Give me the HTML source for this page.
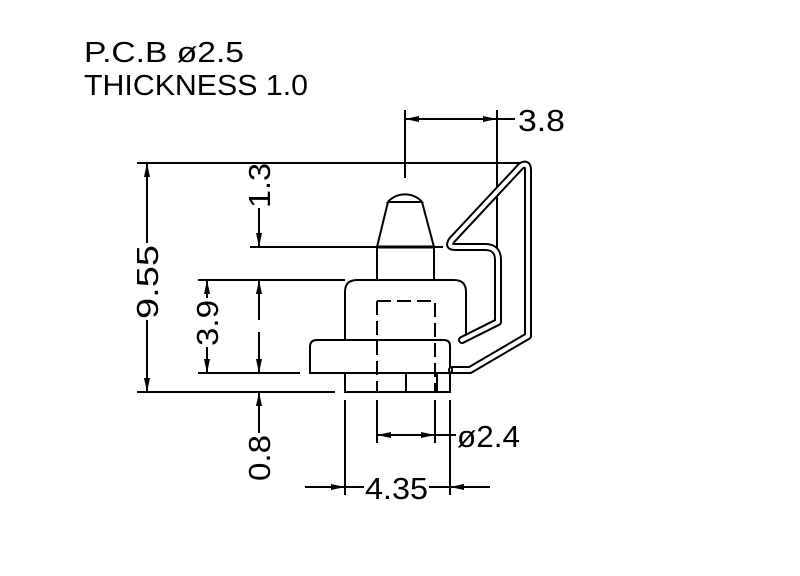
<!DOCTYPE html>
<html><head><meta charset="utf-8"><style>html,body{margin:0;padding:0;background:#fff}svg{display:block}</style></head>
<body>
<svg width="800" height="576" viewBox="0 0 800 576" xmlns="http://www.w3.org/2000/svg" font-family="Liberation Sans, sans-serif">
<defs>
<marker id="a" viewBox="0 0 14 6" refX="14" refY="3" markerWidth="14" markerHeight="6" markerUnits="userSpaceOnUse" orient="auto"><path d="M0,0 L14,3 L0,6 Z" fill="#000"/></marker>
</defs>
<g font-size="29" fill="#000">
<text x="84" y="62" textLength="160" lengthAdjust="spacingAndGlyphs">P.C.B  ø2.5</text>
<text x="84" y="95" textLength="224" lengthAdjust="spacingAndGlyphs">THICKNESS  1.0</text>
</g>
<g stroke="#000" stroke-width="2" fill="none">
<line x1="137" y1="163" x2="520" y2="163"/>
<line x1="137" y1="392" x2="335" y2="392"/>
<line x1="250" y1="247" x2="443" y2="247"/>
<line x1="198" y1="280" x2="345" y2="280"/>
<line x1="198" y1="373" x2="300" y2="373"/>
<line x1="405" y1="110" x2="405" y2="178"/>
<line x1="497" y1="110" x2="497" y2="248"/>
<line x1="440" y1="119" x2="405" y2="119" marker-end="url(#a)"/>
<line x1="460" y1="119" x2="497" y2="119" marker-end="url(#a)"/>
<line x1="440" y1="119" x2="460" y2="119"/>
<line x1="497" y1="119" x2="515" y2="119"/>
<line x1="147" y1="243" x2="147" y2="163" marker-end="url(#a)"/>
<line x1="147" y1="320" x2="147" y2="392" marker-end="url(#a)"/>
<line x1="259" y1="208" x2="259" y2="247" marker-end="url(#a)"/>
<line x1="259" y1="320" x2="259" y2="280" marker-end="url(#a)"/>
<line x1="259" y1="332" x2="259" y2="373" marker-end="url(#a)"/>
<line x1="259" y1="433" x2="259" y2="392" marker-end="url(#a)"/>
<line x1="207" y1="298" x2="207" y2="280" marker-end="url(#a)"/>
<line x1="207" y1="347" x2="207" y2="373" marker-end="url(#a)"/>
<line x1="345" y1="400" x2="345" y2="495"/>
<line x1="450" y1="400" x2="450" y2="495"/>
<line x1="377" y1="400" x2="377" y2="443"/>
<line x1="435" y1="400" x2="435" y2="443"/>
<line x1="405" y1="435" x2="377" y2="435" marker-end="url(#a)"/>
<line x1="405" y1="435" x2="435" y2="435" marker-end="url(#a)"/>
<line x1="435" y1="435" x2="456" y2="435"/>
<line x1="305" y1="487" x2="345" y2="487" marker-end="url(#a)"/>
<line x1="345" y1="487" x2="364" y2="487"/>
<line x1="429" y1="487" x2="450" y2="487"/>
<line x1="490" y1="487" x2="450" y2="487" marker-end="url(#a)"/>
<path d="M388,202 A20,16 0 0 1 422,202 Z"/>
<path d="M388,202 L377,247 L377,280 M422,202 L434,247 L434,280"/>
<line x1="377" y1="247" x2="434" y2="247" stroke-width="3"/>
<path d="M345,340 L345,292 Q345,280 357,280 L454,280 Q466,280 466,292 L466,340"/>
<path d="M310,373 L310,347 Q310,340 317,340 L444,340 Q450,340 450,346 L450,373 Z"/>
<path d="M345,373 L345,392 L450,392 L450,373 M406,373 L406,392 M437,373 L437,392"/>
<path d="M377,301 L435,301 L435,392 M377,301 L377,392" stroke-dasharray="14,6"/>
</g>
<path d="M452,370 L470,370 L528,336 L528,170 Q528,162 521,166 L452,240 Q447,247 455,247 L485,247 Q498,247 498,260 L498,322 L462,340" stroke="#000" stroke-width="8" fill="none" stroke-linejoin="round" stroke-linecap="round"/>
<path d="M452,370 L470,370 L528,336 L528,170 Q528,162 521,166 L452,240 Q447,247 455,247 L485,247 Q498,247 498,260 L498,322 L462,340" stroke="#fff" stroke-width="4" fill="none" stroke-linejoin="round" stroke-linecap="round"/>
<line x1="452" y1="366" x2="452" y2="374" stroke="#000" stroke-width="2"/>
<g font-size="31" fill="#000">
<text x="518" y="131" textLength="47" lengthAdjust="spacingAndGlyphs">3.8</text>
<text x="457" y="447" textLength="63" lengthAdjust="spacingAndGlyphs">ø2.4</text>
<text x="365" y="499" textLength="63" lengthAdjust="spacingAndGlyphs">4.35</text>
<text transform="translate(158,319) rotate(-90)" textLength="74" lengthAdjust="spacingAndGlyphs">9.55</text>
<text transform="translate(270,208) rotate(-90)" textLength="45" lengthAdjust="spacingAndGlyphs">1.3</text>
<text transform="translate(218,346) rotate(-90)" textLength="46" lengthAdjust="spacingAndGlyphs">3.9</text>
<text transform="translate(270,481) rotate(-90)" textLength="46" lengthAdjust="spacingAndGlyphs">0.8</text>
</g>
</svg>
</body></html>
